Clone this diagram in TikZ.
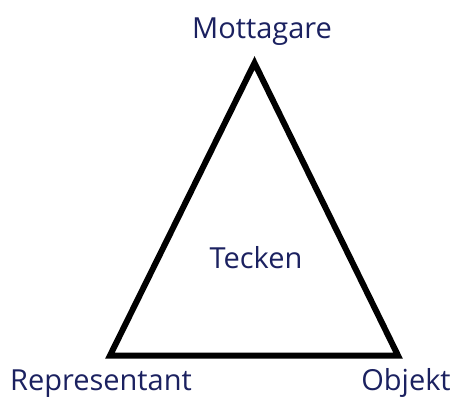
\documentclass[tikz,border=0pt]{standalone}
\usepackage{fontspec}
\setmainfont{Open Sans}
\definecolor{navy}{HTML}{1B2160}
\begin{document}
\begin{tikzpicture}[x=1pt,y=-1pt,
  lbl/.style={text=navy,font=\fontsize{29}{34}\selectfont,inner sep=0pt,anchor=base},
  edge/.style={draw=black,line width=6pt,line join=miter}]
\useasboundingbox (0,0) rectangle (454,396);
\coordinate (top) at (254.5,63);
\coordinate (bl) at (110,355.5);
\coordinate (br) at (398,355.5);
\draw[edge] (top) -- (bl) -- (br) -- cycle;
\node[lbl] (mot) at (262,38) {Mottagare};
\node[lbl] (tec) at (256,268) {Tecken};
\node[lbl] (rep) at (101,390) {Representant};
\node[lbl] (obj) at (406,390) {Objekt};
\end{tikzpicture}
\end{document}
